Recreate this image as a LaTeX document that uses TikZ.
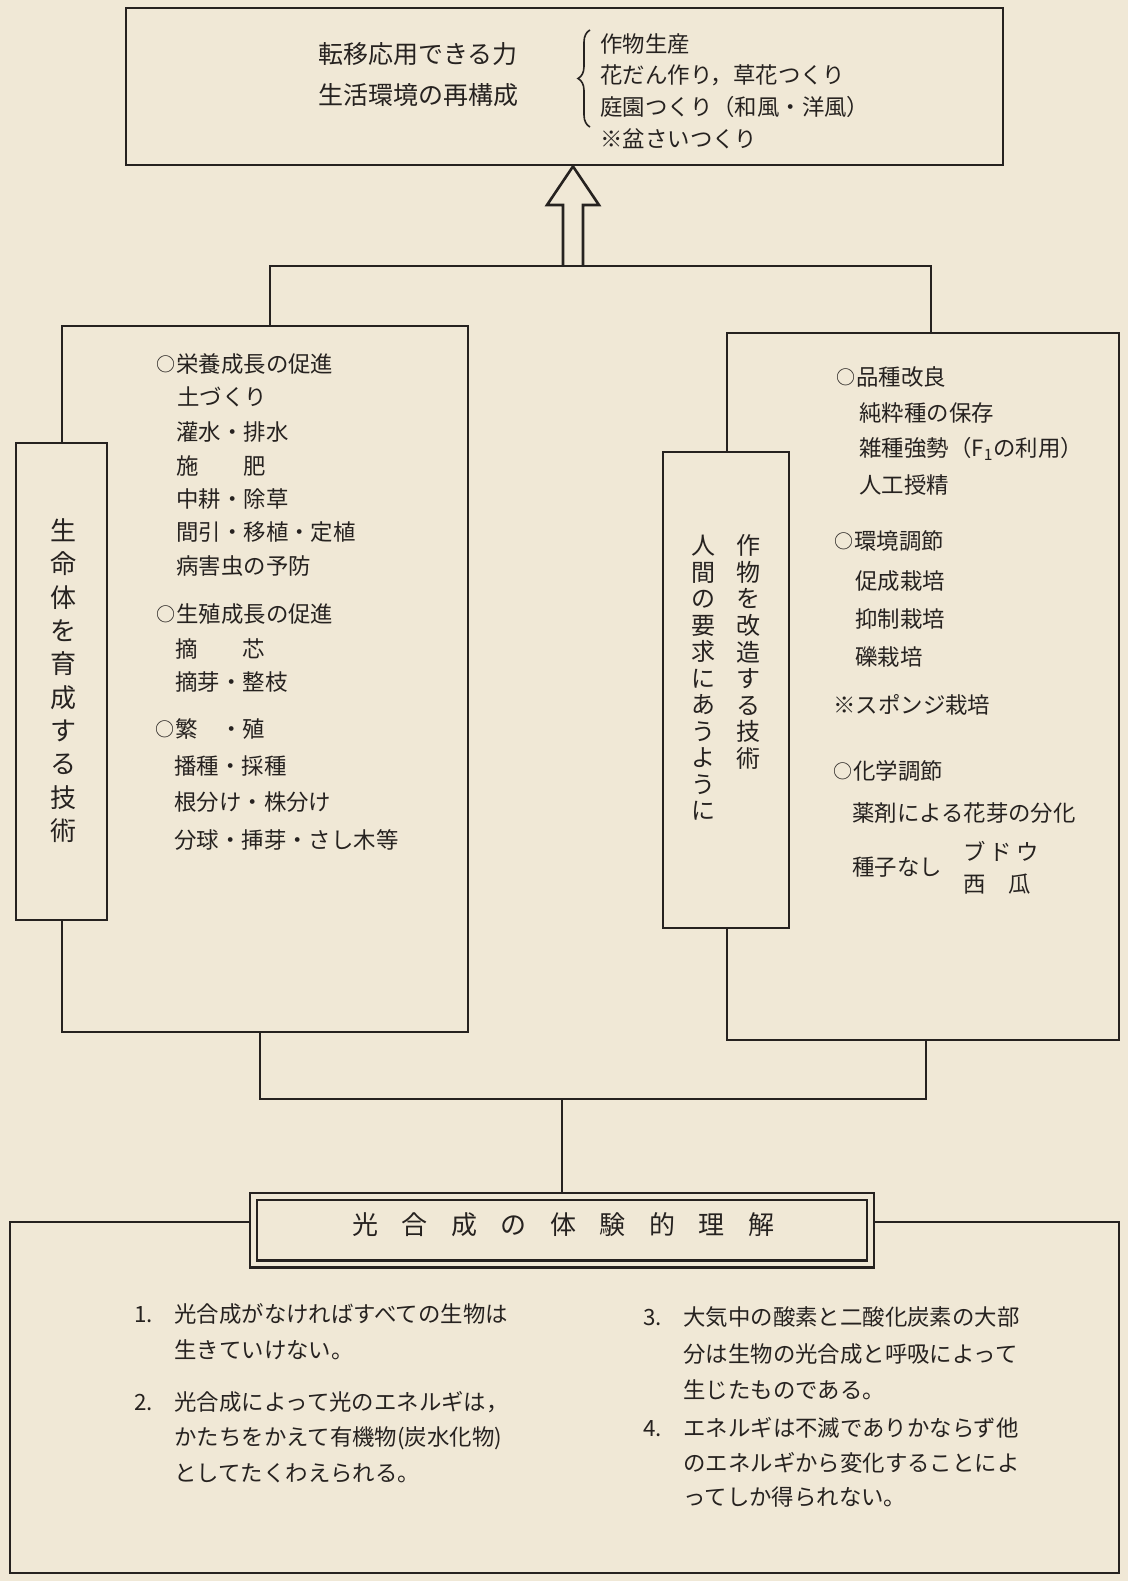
\documentclass[tikz,border=0pt]{standalone}
\usepackage{fontspec}
\usepackage{graphicx}
\setmainfont{Noto Sans CJK JP}
\usetikzlibrary{decorations.pathreplacing}
\definecolor{paper}{RGB}{240,232,214}
\definecolor{ink}{RGB}{38,34,32}
\newcommand\maru{\makebox[0.9em][l]{\raisebox{0.6pt}{\fontsize{9.5pt}{10pt}\selectfont ○}}}
\begin{document}
\begin{tikzpicture}[x=0.5pt,y=-0.5pt,
 box/.style={draw=ink, line width=1.4pt, rectangle, inner sep=0pt},
 conn/.style={draw=ink, line width=1.3pt},
 txt/.style={anchor=west, inner sep=0pt, text=ink, text height=0.88em, text depth=0.12em},
 ctr/.style={anchor=center, inner sep=0pt, text=ink, text height=0.88em, text depth=0.12em},
 fa/.style={font=\fontsize{12.5pt}{15pt}\selectfont},
 fb/.style={font=\fontsize{11.2pt}{13pt}\selectfont},
 fv/.style={font=\fontsize{13pt}{15pt}\selectfont},
 fw/.style={font=\fontsize{12pt}{14pt}\selectfont}]
\fill[paper] (0,0) rectangle (1128,1581);
\useasboundingbox (0,0) rectangle (1128,1581);

% ---------- top box ----------
\node[box, minimum width=438.5pt, minimum height=78.5pt] (top) at (564.5,86.5) {};
\node[txt,fa] (a1) at (318,56) {転移応用できる力};
\node[txt,fa] (a2) at (318,97) {生活環境の再構成};
\draw[ink, line width=0.8pt, decorate, decoration={brace, amplitude=6pt}] (590,127) -- (590,30);
\node[txt,fb] (b1) at (600,45) {作物生産};
\node[txt,fb] (b2) at (600,76) {花だん作り，草花つくり};
\node[txt,fb] (b3) at (600,108) {庭園つくり（和風・洋風）};
\node[txt,fb] (b4) at (600,140) {※盆さいつくり};

% ---------- middle boxes ----------
\node[box, minimum width=203pt, minimum height=353pt] (lbox) at (265,679) {};
\node[box, fill=paper, minimum width=45.5pt, minimum height=238.5pt] (llab) at (61.5,681.5) {};
\node[box, minimum width=196pt, minimum height=353.5pt] (rbox) at (923,686.5) {};
\node[box, fill=paper, minimum width=63pt, minimum height=238pt] (rlab) at (726,690) {};

% hollow arrow and top connectors
\coordinate (jt) at (573,266);
\coordinate (tl) at (270,266);
\coordinate (tr) at (931,266);
\filldraw[fill=paper, draw=ink, line width=1.3pt, line join=miter]
  (563,266) -- (563,205) -- (547,205) -- (top.south -| jt) -- (599,205) -- (583,205) -- (583,266);
\draw[conn] (tl |- lbox.north) -- (tl) -- (tr) -- (tr |- rbox.north);

% left box texts
\node[txt,fb] (l1) at (156,365) {\maru 栄養成長の促進};
\node[txt,fb] (l2) at (177,398) {土づくり};
\node[txt,fb] (l3) at (176,433) {灌水・排水};
\node[txt,fb] (l4) at (176,467) {施　　肥};
\node[txt,fb] (l5) at (176,500) {中耕・除草};
\node[txt,fb] (l6) at (176,533) {間引・移植・定植};
\node[txt,fb] (l7) at (176,567) {病害虫の予防};
\node[txt,fb] (l8) at (156,615) {\maru 生殖成長の促進};
\node[txt,fb] (l9) at (175,650) {摘　　芯};
\node[txt,fb] (l10) at (175,683) {摘芽・整枝};
\node[txt,fb] (l11) at (155,730) {\maru 繁　・殖};
\node[txt,fb] (l12) at (174,767) {播種・採種};
\node[txt,fb] (l13) at (174,803) {根分け・株分け};
\node[txt,fb] (l14) at (174,841) {分球・挿芽・さし木等};

\foreach \c [count=\i from 0] in {生,命,体,を,育,成,す,る,技,術}
  \node[ctr,fv] (lv\i) at (63,{533+33.3*\i}) {\c};

% right box texts
\node[txt,fb] (r1) at (836,378) {\maru 品種改良};
\node[txt,fb] (r2) at (859,414) {純粋種の保存};
\node[txt,fb] (r3) at (859,449) {雑種強勢（F\textsubscript{1}の利用）};
\node[txt,fb] (r4) at (859,486) {人工授精};
\node[txt,fb] (r5) at (834,542) {\maru 環境調節};
\node[txt,fb] (r6) at (855,582) {促成栽培};
\node[txt,fb] (r7) at (855,620) {抑制栽培};
\node[txt,fb] (r8) at (855,658) {礫栽培};
\node[txt,fb] (r9) at (833,706) {※スポンジ栽培};
\node[txt,fb] (r10) at (833,772) {\maru 化学調節};
\node[txt,fb] (r11) at (852,814) {薬剤による花芽の分化};
\node[txt,fb] (r12) at (852,868) {種子なし};
\node[txt,fb] (r13) at (963,853) {ブ\hspace{2pt}ド\hspace{2pt}ウ};
\node[txt,fb] (r14) at (963,885) {西　瓜};

\foreach \c [count=\i from 0] in {作,物,を,改,造,す,る,技,術}
  \node[ctr,fw] (ra\i) at (748,{547+26.6*\i}) {\c};
\foreach \c [count=\i from 0] in {人,間,の,要,求,に,あ,う,よ,う,に}
  \node[ctr,fw] (rb\i) at (703,{547+26.5*\i}) {\c};

% ---------- bottom ----------
\node[box, minimum width=554.5pt, minimum height=175.5pt] (bot) at (564.5,1397.5) {};
\node[draw=ink, fill=paper, line width=1.2pt, double=paper, double distance=2.25pt,
      rectangle, inner sep=0pt, outer sep=2.3pt,
      minimum width=308.5pt, minimum height=33.75pt] (photo) at (562,1230.25) {};
\foreach \c [count=\i from 0] in {光,合,成,の,体,験,的,理,解}
  \node[ctr,fv] (p\i) at ({365+49.5*\i},1227) {\c};

\coordinate (bl) at (260,1099);
\coordinate (br) at (926,1099);
\coordinate (bm) at (562,1099);
\draw[conn] (bl |- lbox.south) -- (bl) -- (br) -- (br |- rbox.south);
\draw[conn] (bm) -- (photo.north);

\node[txt,fb] (n1) at (134,1315) {1.};
\node[txt,fb] (s1a) at (174,1315) {光合成がなければすべての生物は};
\node[txt,fb] (s1b) at (174,1351) {生きていけない。};
\node[txt,fb] (n2) at (134,1403) {2.};
\node[txt,fb] (s2a) at (174,1403) {光合成によって光のエネルギは，};
\node[txt,fb] (s2b) at (174,1438) {かたちをかえて有機物(炭水化物)};
\node[txt,fb] (s2c) at (174,1474) {としてたくわえられる。};
\node[txt,fb] (n3) at (643,1318) {3.};
\node[txt,fb] (s3a) at (683,1318) {大気中の酸素と二酸化炭素の大部};
\node[txt,fb] (s3b) at (683,1355) {分は生物の光合成と呼吸によって};
\node[txt,fb] (s3c) at (683,1391) {生じたものである。};
\node[txt,fb] (n4) at (643,1429) {4.};
\node[txt,fb] (s4a) at (683,1429) {エネルギは不滅でありかならず他};
\node[txt,fb] (s4b) at (683,1464) {のエネルギから変化することによ};
\node[txt,fb] (s4c) at (683,1498) {ってしか得られない。};
\end{tikzpicture}
\end{document}
